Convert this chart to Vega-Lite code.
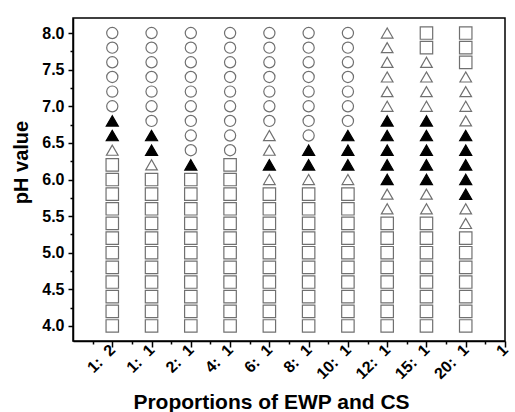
{
  "$schema": "https://vega.github.io/schema/vega-lite/v6.json",
  "width": 432,
  "height": 323,
  "autosize": "none",
  "padding": {"left": 73, "top": 18, "right": 10, "bottom": 71},
  "config": {
    "font": "Liberation Sans",
    "view": {"stroke": "black", "strokeWidth": 1.5},
    "axis": {"grid": false, "domainColor": "black", "domainWidth": 1.5, "tickColor": "black", "tickWidth": 1.5, "labelColor": "black", "titleColor": "black", "labelFont": "Liberation Sans", "titleFont": "Liberation Sans", "labelFontWeight": "bold", "titleFontWeight": "bold"}
  },
  "datasets": {
    "pts": [
      {"x":1,"y":8.0,"t":"o"},{"x":1,"y":7.8,"t":"o"},{"x":1,"y":7.6,"t":"o"},{"x":1,"y":7.4,"t":"o"},{"x":1,"y":7.2,"t":"o"},{"x":1,"y":7.0,"t":"o"},{"x":1,"y":6.8,"t":"f"},{"x":1,"y":6.6,"t":"f"},{"x":1,"y":6.4,"t":"t"},{"x":1,"y":6.2,"t":"s"},{"x":1,"y":6.0,"t":"s"},{"x":1,"y":5.8,"t":"s"},{"x":1,"y":5.6,"t":"s"},{"x":1,"y":5.4,"t":"s"},{"x":1,"y":5.2,"t":"s"},{"x":1,"y":5.0,"t":"s"},{"x":1,"y":4.8,"t":"s"},{"x":1,"y":4.6,"t":"s"},{"x":1,"y":4.4,"t":"s"},{"x":1,"y":4.2,"t":"s"},{"x":1,"y":4.0,"t":"s"},
      {"x":2,"y":8.0,"t":"o"},{"x":2,"y":7.8,"t":"o"},{"x":2,"y":7.6,"t":"o"},{"x":2,"y":7.4,"t":"o"},{"x":2,"y":7.2,"t":"o"},{"x":2,"y":7.0,"t":"o"},{"x":2,"y":6.8,"t":"o"},{"x":2,"y":6.6,"t":"f"},{"x":2,"y":6.4,"t":"f"},{"x":2,"y":6.2,"t":"t"},{"x":2,"y":6.0,"t":"s"},{"x":2,"y":5.8,"t":"s"},{"x":2,"y":5.6,"t":"s"},{"x":2,"y":5.4,"t":"s"},{"x":2,"y":5.2,"t":"s"},{"x":2,"y":5.0,"t":"s"},{"x":2,"y":4.8,"t":"s"},{"x":2,"y":4.6,"t":"s"},{"x":2,"y":4.4,"t":"s"},{"x":2,"y":4.2,"t":"s"},{"x":2,"y":4.0,"t":"s"},
      {"x":3,"y":8.0,"t":"o"},{"x":3,"y":7.8,"t":"o"},{"x":3,"y":7.6,"t":"o"},{"x":3,"y":7.4,"t":"o"},{"x":3,"y":7.2,"t":"o"},{"x":3,"y":7.0,"t":"o"},{"x":3,"y":6.8,"t":"o"},{"x":3,"y":6.6,"t":"o"},{"x":3,"y":6.4,"t":"o"},{"x":3,"y":6.2,"t":"f"},{"x":3,"y":6.0,"t":"s"},{"x":3,"y":5.8,"t":"s"},{"x":3,"y":5.6,"t":"s"},{"x":3,"y":5.4,"t":"s"},{"x":3,"y":5.2,"t":"s"},{"x":3,"y":5.0,"t":"s"},{"x":3,"y":4.8,"t":"s"},{"x":3,"y":4.6,"t":"s"},{"x":3,"y":4.4,"t":"s"},{"x":3,"y":4.2,"t":"s"},{"x":3,"y":4.0,"t":"s"},
      {"x":4,"y":8.0,"t":"o"},{"x":4,"y":7.8,"t":"o"},{"x":4,"y":7.6,"t":"o"},{"x":4,"y":7.4,"t":"o"},{"x":4,"y":7.2,"t":"o"},{"x":4,"y":7.0,"t":"o"},{"x":4,"y":6.8,"t":"o"},{"x":4,"y":6.6,"t":"o"},{"x":4,"y":6.4,"t":"o"},{"x":4,"y":6.2,"t":"s"},{"x":4,"y":6.0,"t":"s"},{"x":4,"y":5.8,"t":"s"},{"x":4,"y":5.6,"t":"s"},{"x":4,"y":5.4,"t":"s"},{"x":4,"y":5.2,"t":"s"},{"x":4,"y":5.0,"t":"s"},{"x":4,"y":4.8,"t":"s"},{"x":4,"y":4.6,"t":"s"},{"x":4,"y":4.4,"t":"s"},{"x":4,"y":4.2,"t":"s"},{"x":4,"y":4.0,"t":"s"},
      {"x":5,"y":8.0,"t":"o"},{"x":5,"y":7.8,"t":"o"},{"x":5,"y":7.6,"t":"o"},{"x":5,"y":7.4,"t":"o"},{"x":5,"y":7.2,"t":"o"},{"x":5,"y":7.0,"t":"o"},{"x":5,"y":6.8,"t":"o"},{"x":5,"y":6.6,"t":"t"},{"x":5,"y":6.4,"t":"t"},{"x":5,"y":6.2,"t":"f"},{"x":5,"y":6.0,"t":"t"},{"x":5,"y":5.8,"t":"s"},{"x":5,"y":5.6,"t":"s"},{"x":5,"y":5.4,"t":"s"},{"x":5,"y":5.2,"t":"s"},{"x":5,"y":5.0,"t":"s"},{"x":5,"y":4.8,"t":"s"},{"x":5,"y":4.6,"t":"s"},{"x":5,"y":4.4,"t":"s"},{"x":5,"y":4.2,"t":"s"},{"x":5,"y":4.0,"t":"s"},
      {"x":6,"y":8.0,"t":"o"},{"x":6,"y":7.8,"t":"o"},{"x":6,"y":7.6,"t":"o"},{"x":6,"y":7.4,"t":"o"},{"x":6,"y":7.2,"t":"o"},{"x":6,"y":7.0,"t":"o"},{"x":6,"y":6.8,"t":"o"},{"x":6,"y":6.6,"t":"o"},{"x":6,"y":6.4,"t":"f"},{"x":6,"y":6.2,"t":"f"},{"x":6,"y":6.0,"t":"t"},{"x":6,"y":5.8,"t":"s"},{"x":6,"y":5.6,"t":"s"},{"x":6,"y":5.4,"t":"s"},{"x":6,"y":5.2,"t":"s"},{"x":6,"y":5.0,"t":"s"},{"x":6,"y":4.8,"t":"s"},{"x":6,"y":4.6,"t":"s"},{"x":6,"y":4.4,"t":"s"},{"x":6,"y":4.2,"t":"s"},{"x":6,"y":4.0,"t":"s"},
      {"x":7,"y":8.0,"t":"o"},{"x":7,"y":7.8,"t":"o"},{"x":7,"y":7.6,"t":"o"},{"x":7,"y":7.4,"t":"o"},{"x":7,"y":7.2,"t":"o"},{"x":7,"y":7.0,"t":"o"},{"x":7,"y":6.8,"t":"o"},{"x":7,"y":6.6,"t":"f"},{"x":7,"y":6.4,"t":"f"},{"x":7,"y":6.2,"t":"f"},{"x":7,"y":6.0,"t":"t"},{"x":7,"y":5.8,"t":"s"},{"x":7,"y":5.6,"t":"s"},{"x":7,"y":5.4,"t":"s"},{"x":7,"y":5.2,"t":"s"},{"x":7,"y":5.0,"t":"s"},{"x":7,"y":4.8,"t":"s"},{"x":7,"y":4.6,"t":"s"},{"x":7,"y":4.4,"t":"s"},{"x":7,"y":4.2,"t":"s"},{"x":7,"y":4.0,"t":"s"},
      {"x":8,"y":8.0,"t":"t"},{"x":8,"y":7.8,"t":"t"},{"x":8,"y":7.6,"t":"t"},{"x":8,"y":7.4,"t":"t"},{"x":8,"y":7.2,"t":"t"},{"x":8,"y":7.0,"t":"t"},{"x":8,"y":6.8,"t":"f"},{"x":8,"y":6.6,"t":"f"},{"x":8,"y":6.4,"t":"f"},{"x":8,"y":6.2,"t":"f"},{"x":8,"y":6.0,"t":"f"},{"x":8,"y":5.8,"t":"t"},{"x":8,"y":5.6,"t":"t"},{"x":8,"y":5.4,"t":"s"},{"x":8,"y":5.2,"t":"s"},{"x":8,"y":5.0,"t":"s"},{"x":8,"y":4.8,"t":"s"},{"x":8,"y":4.6,"t":"s"},{"x":8,"y":4.4,"t":"s"},{"x":8,"y":4.2,"t":"s"},{"x":8,"y":4.0,"t":"s"},
      {"x":9,"y":8.0,"t":"s"},{"x":9,"y":7.8,"t":"s"},{"x":9,"y":7.6,"t":"t"},{"x":9,"y":7.4,"t":"t"},{"x":9,"y":7.2,"t":"t"},{"x":9,"y":7.0,"t":"t"},{"x":9,"y":6.8,"t":"f"},{"x":9,"y":6.6,"t":"f"},{"x":9,"y":6.4,"t":"f"},{"x":9,"y":6.2,"t":"f"},{"x":9,"y":6.0,"t":"f"},{"x":9,"y":5.8,"t":"t"},{"x":9,"y":5.6,"t":"t"},{"x":9,"y":5.4,"t":"s"},{"x":9,"y":5.2,"t":"s"},{"x":9,"y":5.0,"t":"s"},{"x":9,"y":4.8,"t":"s"},{"x":9,"y":4.6,"t":"s"},{"x":9,"y":4.4,"t":"s"},{"x":9,"y":4.2,"t":"s"},{"x":9,"y":4.0,"t":"s"},
      {"x":10,"y":8.0,"t":"s"},{"x":10,"y":7.8,"t":"s"},{"x":10,"y":7.6,"t":"s"},{"x":10,"y":7.4,"t":"t"},{"x":10,"y":7.2,"t":"t"},{"x":10,"y":7.0,"t":"t"},{"x":10,"y":6.8,"t":"t"},{"x":10,"y":6.6,"t":"f"},{"x":10,"y":6.4,"t":"f"},{"x":10,"y":6.2,"t":"f"},{"x":10,"y":6.0,"t":"f"},{"x":10,"y":5.8,"t":"f"},{"x":10,"y":5.6,"t":"t"},{"x":10,"y":5.4,"t":"t"},{"x":10,"y":5.2,"t":"s"},{"x":10,"y":5.0,"t":"s"},{"x":10,"y":4.8,"t":"s"},{"x":10,"y":4.6,"t":"s"},{"x":10,"y":4.4,"t":"s"},{"x":10,"y":4.2,"t":"s"},{"x":10,"y":4.0,"t":"s"}
    ]
  },
  "data": {"name": "pts"},
  "resolve": {"axis": {"x": "independent", "y": "independent"}},
  "layer": [
    {
      "mark": {"type": "point", "opacity": 0},
      "encoding": {
        "x": {"field": "x", "type": "quantitative", "scale": {"domain": [0, 11], "nice": false, "zero": false},
          "axis": {"orient": "bottom", "values": [0.5,1.5,2.5,3.5,4.5,5.5,6.5,7.5,8.5,9.5,10.5], "labels": false, "tickSize": 3, "domain": false, "title": null}},
        "y": {"field": "y", "type": "quantitative", "scale": {"domain": [3.795, 8.205], "nice": false, "zero": false},
          "axis": {"orient": "left", "values": [4.25,4.75,5.25,5.75,6.25,6.75,7.25,7.75], "labels": false, "tickSize": 3, "domain": false, "title": null}}
      }
    },
    {
      "mark": {"type": "point", "filled": false, "strokeWidth": 1.2, "opacity": 1},
      "encoding": {
        "x": {"field": "x", "type": "quantitative",
          "axis": {"orient": "bottom", "values": [1,2,3,4,5,6,7,8,9,10,11], "labelExpr": "datum.value == 1 ? '1:\u00a0 2' : datum.value == 2 ? '1:\u00a0 1' : datum.value == 3 ? '2:\u00a0 1' : datum.value == 4 ? '4:\u00a0 1' : datum.value == 5 ? '6:\u00a0 1' : datum.value == 6 ? '8:\u00a0 1' : datum.value == 7 ? '10:\u00a0 1' : datum.value == 8 ? '12:\u00a0 1' : datum.value == 9 ? '15:\u00a0 1' : datum.value == 10 ? '20:\u00a0 1' : '1'",
            "labelAngle": -45, "labelAlign": "right", "labelBaseline": "middle", "labelFontSize": 16, "labelPadding": 0, "labelDx": 0, "labelDy": 12, "tickSize": 6, "labelOverlap": false, "labelBound": false, "labelFlush": false,
            "title": "Proportions of EWP and CS", "titleFontSize": 21, "titleX": 198, "titleY": 67, "titleAnchor": null, "titleAlign": "center", "titleBaseline": "alphabetic"}},
        "y": {"field": "y", "type": "quantitative",
          "axis": {"orient": "left", "values": [4.0,4.5,5.0,5.5,6.0,6.5,7.0,7.5,8.0], "format": ".1f", "labelFontSize": 16, "labelPadding": 4, "tickSize": 5,
            "title": "pH value", "titleFontSize": 20, "titleX": -52, "titleY": 144, "titleAngle": -90, "titleAlign": "center", "titleBaseline": "middle"}},
        "shape": {"field": "t", "type": "nominal", "scale": {"domain": ["o","t","f","s"], "range": ["circle","triangle-up","triangle-up","square"]}, "legend": null},
        "fill": {"field": "t", "type": "nominal", "scale": {"domain": ["o","t","f","s"], "range": ["white","white","black","white"]}, "legend": null},
        "stroke": {"field": "t", "type": "nominal", "scale": {"domain": ["o","t","f","s"], "range": ["#707070","#707070","black","#707070"]}, "legend": null},
        "size": {"field": "t", "type": "nominal", "scale": {"domain": ["o","t","f","s"], "range": [125,155,155,110]}, "legend": null}
      }
    }
  ]
}
